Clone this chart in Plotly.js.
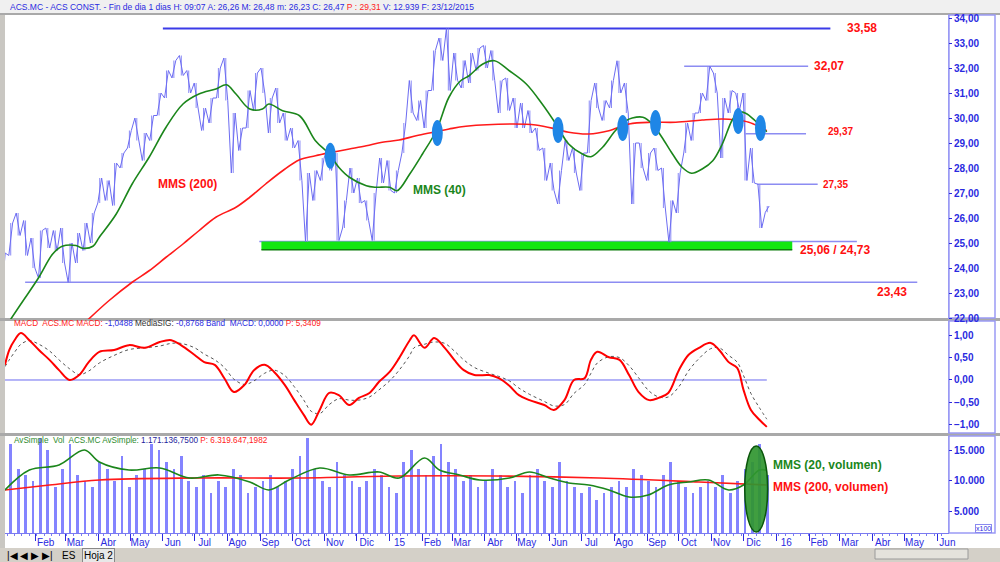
<!DOCTYPE html>
<html><head><meta charset="utf-8">
<script src="https://cdn.plot.ly/plotly-3.0.1.min.js"></script>
<style>html,body{margin:0;padding:0;background:#fff}#c{width:1000px;height:562px}</style>
</head><body><div id="c"></div>
<script>
// ---------- DATA ----------
const firstWeekStart = '2013-12-30';
const weekLow  = [22.8,24.5,25.3,24.5,24.0,23.6,24.8,24.7,24.2,23.43,24.2,24.7,25.0,26.6,26.7,26.5,28.0,28.8,29.1,28.3,29.1,30.1,30.8,31.6,31.7,31.0,30.4,29.5,29.8,30.8,30.7,27.8,28.7,29.6,30.3,31.0,29.4,29.8,29.1,28.8,27.5,25.06,26.7,27.5,27.9,25.1,25.6,27.0,26.6,25.9,25.1,27.4,27.1,27.0,28.6,30.2,29.9,29.6,31.1,32.3,31.1,31.5,31.2,31.4,31.9,32.0,31.5,30.2,30.3,29.6,29.6,29.4,28.7,27.5,27.1,26.56,28.3,27.8,27.1,28.6,30.4,29.9,30.4,31.0,30.2,26.56,28.0,27.5,27.9,26.4,25.03,26.2,28.6,29.1,30.2,30.7,31.0,28.4,30.2,30.3,27.5,27.4,25.6,26.23];
const weekHigh = [24.6,25.8,26.2,25.9,25.2,25.5,25.6,25.5,25.6,25.0,25.4,25.8,26.2,27.6,27.5,28.2,28.6,29.5,30.0,29.4,30.1,31.0,31.9,32.3,32.5,31.9,31.4,30.4,30.8,32.0,32.4,30.2,29.6,31.1,31.8,32.0,30.8,31.2,30.2,29.6,29.1,27.8,27.9,28.4,28.8,28.6,26.7,28.0,27.6,26.7,27.0,28.4,28.3,27.9,29.8,31.5,30.7,31.1,32.7,33.2,33.58,32.6,32.3,32.6,32.8,32.9,32.7,31.5,31.6,30.8,30.6,30.3,29.6,28.8,28.2,27.9,29.1,28.8,28.6,30.7,31.4,30.7,31.5,32.29,31.4,29.0,29.0,28.6,28.8,28.0,26.7,27.8,29.8,30.2,31.0,32.07,31.8,30.8,31.1,31.0,31.0,28.8,27.35,26.48];
const weekVolume = [14000,16000,12000,11000,10000,17000,15000,9000,12000,16000,11000,10000,9000,13000,12000,10000,14000,9000,11000,12000,16000,15000,13000,12000,14000,10000,9000,11000,8000,10000,9000,12000,11000,8000,9000,10000,11000,9000,10000,12000,14000,17000,12000,10000,9000,13000,11000,10000,9000,10000,12000,11000,9000,8000,13000,15000,12000,11000,14000,16000,13000,12000,10000,11000,9000,10000,12000,11000,9000,10000,8000,11000,12000,10000,9000,13000,10000,9000,8000,9000,7000,8000,9000,10000,9000,12000,11000,10000,9000,11000,13000,10000,9000,8000,9000,10000,9000,11000,8000,10000,12000,13000,16000,11000];

const ma40Dates = ['2014-01-06','2014-01-18','2014-02-04','2014-02-17','2014-02-26','2014-03-11','2014-03-17','2014-03-27','2014-04-02','2014-04-18','2014-05-03','2014-05-19','2014-06-04','2014-06-20','2014-07-05','2014-07-21','2014-07-31','2014-08-09','2014-08-22','2014-09-03','2014-09-09','2014-09-22','2014-10-08','2014-10-23','2014-11-05','2014-11-14','2014-11-24','2014-12-10','2014-12-19','2015-01-01','2015-01-08','2015-01-20','2015-02-01','2015-02-14','2015-02-26','2015-03-09','2015-03-17','2015-03-30','2015-04-10','2015-04-24','2015-05-10','2015-05-25','2015-06-07','2015-06-19','2015-07-02','2015-07-10','2015-07-21','2015-08-02','2015-08-12','2015-08-18','2015-08-28','2015-09-06','2015-09-15','2015-09-25','2015-10-04','2015-10-13','2015-10-23','2015-11-02','2015-11-11','2015-11-20','2015-11-26','2015-12-03','2015-12-12','2015-12-20','2015-12-23'];
const ma40Values = [21.8,22.56,23.63,24.56,24.87,24.9,24.79,24.87,25.23,26.16,27.36,28.43,29.63,30.56,30.96,31.16,31.33,30.96,30.36,30.36,30.56,30.29,30.09,29.09,28.56,28.03,27.63,27.29,27.23,27.23,27.09,27.76,28.56,29.49,30.83,31.49,31.69,32.16,32.29,31.89,31.36,30.56,29.76,28.96,28.56,28.45,28.83,29.49,29.89,30.0,30.03,29.76,29.23,28.56,28.03,27.79,27.96,28.29,28.96,29.89,30.23,30.19,29.89,29.56,29.45];
const ma200Dates = ['2014-03-19','2014-04-11','2014-05-03','2014-05-19','2014-06-04','2014-06-20','2014-07-05','2014-07-21','2014-08-09','2014-08-22','2014-09-06','2014-09-22','2014-10-08','2014-10-23','2014-11-08','2014-11-24','2014-12-10','2014-12-25','2015-01-10','2015-01-26','2015-02-11','2015-02-26','2015-03-14','2015-04-27','2015-05-19','2015-06-07','2015-06-19','2015-07-08','2015-07-27','2015-08-15','2015-09-06','2015-09-28','2015-10-23','2015-11-11','2015-11-24','2015-12-06','2015-12-16','2015-12-23'];
const ma200Values = [21.8,22.69,23.43,23.89,24.43,24.96,25.49,26.03,26.43,26.83,27.36,27.89,28.33,28.49,28.63,28.76,28.89,29.03,29.12,29.29,29.43,29.56,29.67,29.76,29.72,29.56,29.43,29.36,29.49,29.76,29.83,29.83,29.92,29.96,29.92,29.83,29.65,29.49];

const levelValues = [33.58, 32.07, 29.37, 27.35, 25.06, 23.43];
const levelStart  = ['2014-06-01','2015-10-06','2015-12-03','2015-12-14','2014-08-31','2014-01-22'];
const levelEnd    = ['2016-02-21','2016-01-31','2016-01-29','2016-02-09','2016-03-17','2016-05-13'];
const levelLabelDate = ['2016-03-06','2016-02-04','2016-02-17','2016-02-12','2016-01-21','2016-04-03'];
const levelLabelY = [33.6, 32.07, 29.45, 27.35, 24.72, 23.04];
const supportBand = [24.73, 25.06];
const supportBandDates = ['2014-09-02','2016-01-16'];

const crossDates  = ['2014-11-06','2015-02-15','2015-06-09','2015-08-09','2015-09-09','2015-11-26','2015-12-17'];
const crossPrices = [28.49, 29.4, 29.52, 29.6, 29.8, 29.88, 29.6];

const macdDates = ['2014-01-03','2014-01-07','2014-01-12','2014-01-18','2014-01-26','2014-02-04','2014-02-14','2014-02-23','2014-03-05','2014-03-14','2014-03-23','2014-04-02','2014-04-16','2014-04-30','2014-05-15','2014-05-29','2014-06-09','2014-06-18','2014-07-01','2014-07-10','2014-07-20','2014-07-29','2014-08-07','2014-08-17','2014-08-26','2014-09-05','2014-09-14','2014-09-24','2014-10-03','2014-10-12','2014-10-19','2014-10-27','2014-11-05','2014-11-14','2014-11-24','2014-12-03','2014-12-13','2014-12-22','2015-01-01','2015-01-10','2015-01-20','2015-01-24','2015-02-03','2015-02-12','2015-02-22','2015-03-03','2015-03-12','2015-03-22','2015-04-05','2015-04-14','2015-04-24','2015-05-03','2015-05-13','2015-05-27','2015-06-05','2015-06-15','2015-06-24','2015-07-04','2015-07-10','2015-07-16','2015-07-27','2015-08-06','2015-08-15','2015-08-24','2015-09-03','2015-09-12','2015-09-21','2015-10-01','2015-10-10','2015-10-20','2015-10-31','2015-11-08','2015-11-17','2015-11-25','2015-12-01','2015-12-08','2015-12-16','2015-12-23'];
const macdValues = [0.34,0.67,0.89,1.05,0.89,0.67,0.45,0.22,0.0,0.11,0.40,0.63,0.67,0.78,0.72,0.85,0.89,0.78,0.56,0.40,0.34,0.04,-0.27,-0.11,0.22,0.34,0.18,-0.11,-0.45,-0.78,-1.0,-0.67,-0.29,-0.34,-0.56,-0.40,-0.29,-0.04,0.18,0.49,0.89,1.0,0.72,0.94,0.72,0.45,0.22,0.11,0.11,0.04,-0.13,-0.34,-0.45,-0.56,-0.67,-0.45,0.0,0.04,0.45,0.63,0.51,0.45,0.11,-0.27,-0.45,-0.40,-0.29,0.22,0.56,0.72,0.83,0.67,0.40,0.27,-0.22,-0.67,-0.89,-1.0488];
const signalValues = [0.30,0.45,0.62,0.80,0.88,0.80,0.65,0.45,0.25,0.12,0.20,0.38,0.55,0.68,0.72,0.76,0.82,0.82,0.72,0.58,0.45,0.28,0.02,-0.10,-0.02,0.15,0.22,0.10,-0.15,-0.45,-0.70,-0.75,-0.55,-0.42,-0.45,-0.45,-0.38,-0.22,-0.02,0.22,0.55,0.72,0.80,0.85,0.82,0.65,0.45,0.28,0.15,0.08,-0.02,-0.18,-0.32,-0.48,-0.58,-0.55,-0.30,-0.10,0.15,0.38,0.52,0.50,0.32,0.05,-0.25,-0.38,-0.38,-0.15,0.20,0.48,0.70,0.72,0.55,0.40,0.10,-0.30,-0.62,-0.8768];

const volMa20Dates = ['2014-01-03','2014-01-26','2014-02-23','2014-03-19','2014-04-02','2014-04-30','2014-05-29','2014-06-26','2014-07-24','2014-08-22','2014-09-09','2014-09-28','2014-10-27','2014-11-24','2014-12-22','2015-01-10','2015-02-03','2015-02-17','2015-03-08','2015-03-27','2015-04-24','2015-05-13','2015-06-01','2015-06-19','2015-07-08','2015-07-27','2015-08-15','2015-09-02','2015-09-21','2015-10-10','2015-10-29','2015-11-17','2015-12-01','2015-12-16','2015-12-23'];
const volMa20Values = [8550,11770,12580,15000,13060,11770,12100,10480,10970,9840,8550,10160,12100,10970,11450,10480,13710,11770,10970,10160,10480,11450,10480,9680,9350,8550,7420,7740,9350,9840,10160,8550,9350,11770,11711];
const volMa200Dates = ['2014-01-03','2014-02-14','2014-04-02','2014-07-05','2014-10-08','2015-01-10','2015-04-14','2015-07-18','2015-10-20','2015-12-23'];
const volMa200Values = [8550,9350,10160,10480,10480,10800,10800,10480,9840,9350];

const monthTicks = ['2014-01-01','2014-02-01','2014-03-01','2014-04-01','2014-05-01','2014-06-01','2014-07-01','2014-08-01','2014-09-01','2014-10-01','2014-11-01','2014-12-01','2015-01-01','2015-02-01','2015-03-01','2015-04-01','2015-05-01','2015-06-01','2015-07-01','2015-08-01','2015-09-01','2015-10-01','2015-11-01','2015-12-01','2016-01-01','2016-02-01','2016-03-01','2016-04-01','2016-05-01','2016-06-01'];
const monthLabels = ['14','Feb','Mar','Abr','May','Jun','Jul','Ago','Sep','Oct','Nov','Dic','15','Feb','Mar','Abr','May','Jun','Jul','Ago','Sep','Oct','Nov','Dic','16','Feb','Mar','Abr','May','Jun'];

// ---------- BUILD ----------
const DAY = 86400000;
const t0 = Date.parse(firstWeekStart + 'T00:00:00Z');
const iso = ms => new Date(ms).toISOString().slice(0,16).replace('T',' ');
const px = [], py = [], vx = [], bx = [], by = [];
const n = weekLow.length;
for (let i = 0; i < n; i++) {
  const a = iso(t0 + (7*i + 0.6)*DAY), b = iso(t0 + (7*i + 4.2)*DAY);
  const mid = (weekLow[i] + weekHigh[i]) / 2;
  const nxt = i + 1 < n ? (weekLow[i+1] + weekHigh[i+1]) / 2 : mid;
  if (nxt >= mid) { px.push(a, b); py.push(weekLow[i], weekHigh[i]); }
  else { px.push(a, b); py.push(weekHigh[i], weekLow[i]); }
  const c = iso(t0 + (7*i + 2.4)*DAY);
  vx.push(c);
  bx.push(c, c, null); by.push(weekLow[i], weekHigh[i], null);
}
const comma = v => v.toFixed(2).replace('.', ',');
const BLUE = '#2a2ae0';
const FONT = 'Liberation Sans, Arial, sans-serif';

const traces = [
  {x: bx, y: by, type: 'scatter', mode: 'lines', line: {color: '#8a8af6', width: 1}, connectgaps:false, yaxis: 'y', hoverinfo: 'skip'},
  {x: px, y: py, type: 'scatter', mode: 'lines', line: {color: '#6c6cf2', width: 1}, yaxis: 'y', hoverinfo: 'skip'},
  {x: ma200Dates, y: ma200Values, type: 'scatter', mode: 'lines', line: {color: '#ff1a1a', width: 1.6, shape: 'spline'}, yaxis: 'y'},
  {x: ma40Dates, y: ma40Values, type: 'scatter', mode: 'lines', line: {color: '#1b861b', width: 1.6, shape: 'spline'}, yaxis: 'y'},
  {x: [macdDates[0], macdDates[macdDates.length-1]], y: [0, 0], type: 'scatter', mode: 'lines', line: {color: '#6a6af0', width: 1}, yaxis: 'y2'},
  {x: macdDates, y: signalValues, type: 'scatter', mode: 'lines', line: {color: '#555', width: 1, dash: 'dot', shape: 'spline'}, yaxis: 'y2'},
  {x: macdDates, y: macdValues, type: 'scatter', mode: 'lines', line: {color: '#ff0000', width: 2, shape: 'spline'}, yaxis: 'y2'},
  {x: vx, y: weekVolume, type: 'bar', width: 2.6*DAY, marker: {color: '#8484ff', line: {width: 0}}, yaxis: 'y3'},
  {x: volMa200Dates, y: volMa200Values, type: 'scatter', mode: 'lines', line: {color: '#ff1a1a', width: 1.6, shape: 'spline'}, yaxis: 'y3'},
  {x: volMa20Dates, y: volMa20Values, type: 'scatter', mode: 'lines', line: {color: '#1b861b', width: 1.6, shape: 'spline'}, yaxis: 'y3'}
];

const shapes = [];
const ann = [];
const P = (px_) => (px_ - 5) / 943;
const Q = (py_) => (533 - py_) / 519;
shapes.push({type:'rect', xref:'paper', yref:'paper', x0:P(0), x1:P(5), y0:Q(562), y1:Q(0), fillcolor:'#c9c7c2', line:{width:0}, layer:'below'});
shapes.push({type:'rect', xref:'paper', yref:'paper', x0:P(0), x1:P(1000), y0:Q(562), y1:Q(548), fillcolor:'#d4d0c8', line:{width:0}, layer:'below'});
shapes.push({type:'rect', xref:'paper', yref:'paper', x0:P(0), x1:P(1000), y0:Q(13), y1:Q(0), fillcolor:'#f0f0f0', line:{width:0}, layer:'below'});
[[13,15],[318,321],[433,436]].forEach(r => shapes.push({type:'rect', xref:'paper', yref:'paper', x0:P(0), x1:P(1000), y0:Q(r[1]), y1:Q(r[0]), fillcolor:'#a9a9a9', line:{width:0}, layer:'below'}));
[[15,318],[321,433],[436,533]].forEach(r => shapes.push({type:'rect', xref:'paper', yref:'paper', x0:P(949), x1:P(995), y0:Q(r[1]), y1:Q(r[0]), fillcolor:'#ffffff', line:{color:'#9a9af5', width:1.5}, layer:'below'}));
// tabs area
shapes.push({type:'rect', xref:'paper', yref:'paper', x0:P(875), x1:P(968), y0:Q(559), y1:Q(549), fillcolor:'#e4e2dc', line:{color:'#9a9a9a', width:1}, layer:'below'});

levelValues.forEach((v, i) => {
  shapes.push({type:'line', xref:'x', yref:'y', x0:levelStart[i], x1:levelEnd[i], y0:v, y1:v,
    line:{color: i === 0 ? '#3b3be8' : '#8c8cf2', width: i === 0 ? 2.2 : 1.5}, layer:'below'});
});
shapes.push({type:'rect', xref:'x', yref:'y', x0:supportBandDates[0], x1:supportBandDates[1], y0:supportBand[0], y1:supportBand[1], fillcolor:'#12e612', line:{width:0}, layer:'below'});
shapes.push({type:'line', xref:'x', yref:'y', x0:supportBandDates[0], x1:supportBandDates[1], y0:supportBand[0], y1:supportBand[0], line:{color:'#0b7d0b', width:1.6}, layer:'below'});
crossDates.forEach((d, i) => shapes.push({type:'circle', xref:'x', yref:'y', xsizemode:'pixel', ysizemode:'pixel', xanchor:d, yanchor:crossPrices[i], x0:-5.5, x1:5.5, y0:-13, y1:13, fillcolor:'#1f86e6', line:{width:0}, layer:'above'}));
shapes.push({type:'circle', xref:'x', yref:'y3', xsizemode:'pixel', ysizemode:'pixel', xanchor:'2015-12-13', yanchor:8710, x0:-11.5, x1:11.5, y0:-43, y1:43, fillcolor:'rgba(48,150,48,0.92)', line:{color:'#0b560b', width:1.5}, layer:'above'});

const lblSize = [12, 12, 10, 10, 12, 12];
levelValues.forEach((v, i) => {
  const t = i === 4 ? comma(supportBand[1]) + ' / ' + comma(supportBand[0]) : comma(v);
  ann.push({x: levelLabelDate[i], y: levelLabelY[i], xref:'x', yref:'y', text: t, showarrow:false, xanchor:'left', yanchor:'middle',
    font:{family:FONT, size: lblSize[i], color:'#ff1010', weight:'bold'}});
});
ann.push({x:'2014-06-24', y:27.36, xref:'x', yref:'y', text:'MMS (200)', showarrow:false, xanchor:'center', font:{family:FONT, size:12, color:'#ff1010', weight:'bold'}});
ann.push({x:'2015-02-17', y:27.12, xref:'x', yref:'y', text:'MMS (40)', showarrow:false, xanchor:'center', font:{family:FONT, size:12, color:'#1b861b', weight:'bold'}});
ann.push({x:'2015-12-27', y:12600, xref:'x', yref:'y3', text:'MMS (20, volumen)', showarrow:false, xanchor:'left', font:{family:FONT, size:12, color:'#1b861b', weight:'bold'}});
ann.push({x:'2015-12-27', y:9000, xref:'x', yref:'y3', text:'MMS (200, volumen)', showarrow:false, xanchor:'left', font:{family:FONT, size:12, color:'#ff1010', weight:'bold'}});
ann.push({xref:'paper', yref:'paper', x:P(8), y:Q(7), xanchor:'left', yanchor:'middle', showarrow:false,
  text:'ACS.MC - ACS CONST. - Fin de dia 1 dias H: 09:07 A: 26,26 M: 26,48 m: 26,23 C: 26,47 <span style="color:#ff2020">P : 29,31</span> V: 12.939 F: 23/12/2015',
  font:{family:FONT, size:8.5, color:'#2a2ae0'}});
ann.push({xref:'paper', yref:'paper', x:P(12), y:Q(323), xanchor:'left', yanchor:'middle', showarrow:false,
  text:'<span style="color:#ff2020">MACD  ACS.MC MACD:</span> -1,0488 <span style="color:#333">MediaSIG:</span> -0,8768 Band  MACD: 0,0000 <span style="color:#ff2020">P: 5,3409</span>',
  font:{family:FONT, size:8.2, color:'#2a2ae0'}});
ann.push({xref:'paper', yref:'paper', x:P(12), y:Q(441), xanchor:'left', yanchor:'middle', showarrow:false,
  text:'AvSimple  Vol  ACS.MC AvSimple: <span style="color:#1c1c9c">1.171.136,7500</span> <span style="color:#ff2020">P: 6.319.647,1982</span>',
  font:{family:FONT, size:8.2, color:'#2e8b2e'}});
ann.push({xref:'paper', yref:'paper', x:P(5), y:Q(555), xanchor:'left', yanchor:'middle', showarrow:false, text:'|◀ ◀ ▶ ▶|', font:{family:FONT, size:10, color:'#000'}});
ann.push({xref:'paper', yref:'paper', x:P(60), y:Q(555), xanchor:'left', yanchor:'middle', showarrow:false, text:'ES', font:{family:FONT, size:10, color:'#000'}});
ann.push({xref:'paper', yref:'paper', x:P(82), y:Q(555), xanchor:'left', yanchor:'middle', showarrow:false, text:'Hoja 2', bgcolor:'#e8e8e8', bordercolor:'#888', borderwidth:1, borderpad:1, font:{family:FONT, size:10, color:'#000'}});
ann.push({xref:'paper', yref:'paper', x:P(992), y:Q(528), xanchor:'right', yanchor:'middle', showarrow:false, text:'x100', bordercolor:'#8a8af0', borderwidth:1, borderpad:0, font:{family:FONT, size:7, color:'#2a2ae0'}});

const yCommon = {side:'right', anchor:'x', showgrid:false, zeroline:false, showline:true, linecolor:'#9a9af5', linewidth:1,
  ticks:'outside', ticklen:3, tickcolor:BLUE, tickfont:{family:FONT, size:10, color:BLUE, weight:'bold'}, fixedrange:true};

const layout = {
  width:1000, height:562, margin:{l:5, r:52, t:14, b:29},
  paper_bgcolor:'#ffffff', plot_bgcolor:'#ffffff', showlegend:false, separators:',.',
  font:{family:FONT},
  xaxis:{type:'date', range:['2014-01-03','2016-06-11'], anchor:'y3', showgrid:false, zeroline:false,
    showline:true, linecolor:'#7a7af0', linewidth:1,
    tickvals: monthTicks, ticktext: monthLabels, ticks:'outside', ticklen:7, tickcolor:BLUE, ticklabelshift:10, ticklabelstandoff:-7,
    tickfont:{family:FONT, size:10, color:BLUE},
    minor:{ticks:'outside', ticklen:2, dtick:7*DAY, tickcolor:'#7a7af0'}},
  yaxis: Object.assign({}, yCommon, {domain:[Q(319), Q(15)], range:[21.96, 34.12], tickvals:[22,23,24,25,26,27,28,29,30,31,32,33,34], tickformat:'.2f'}),
  yaxis2: Object.assign({}, yCommon, {domain:[Q(433), Q(321)], range:[-1.186, 1.32], tickvals:[-1,-0.5,0,0.5,1], tickformat:'.2f'}),
  yaxis3: Object.assign({}, yCommon, {domain:[0, Q(436)], range:[1600, 17260], tickvals:[5000,10000,15000], tickformat:',d'}),
  shapes: shapes, annotations: ann, bargap:0
};
Plotly.newPlot('c', traces, layout, {displayModeBar:false, staticPlot:true});
</script></body></html>
